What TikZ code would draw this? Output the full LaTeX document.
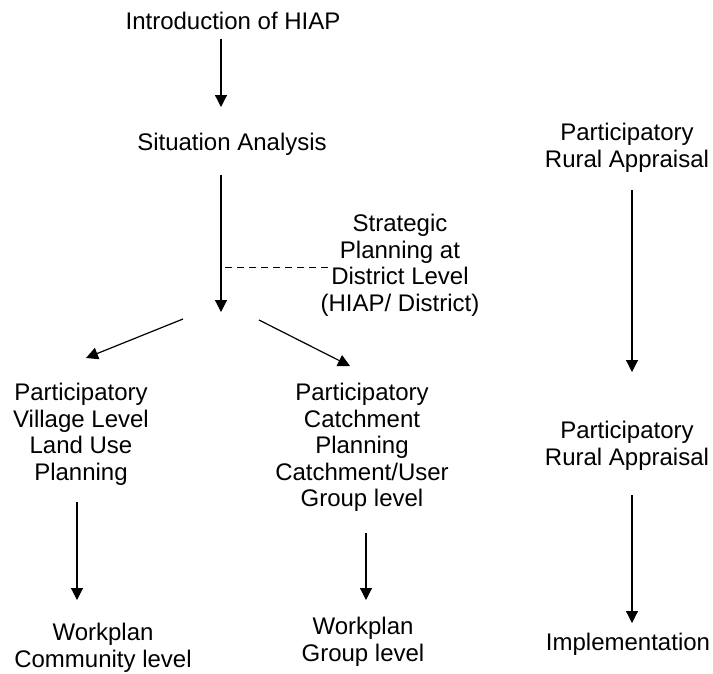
\documentclass[tikz,border=0pt]{standalone}
\usepackage{fontspec}
\setmainfont{Liberation Sans}
\usetikzlibrary{arrows.meta}
\begin{document}
\begin{tikzpicture}[x=1pt,y=-1pt,
  lbl/.style={align=center, inner sep=0pt, anchor=north, font=\fontsize{24}{26.5}\selectfont},
  arr/.style={line width=1.2pt, -{Triangle[length=12pt,width=12pt]}},
  dashline/.style={line width=1pt, dash pattern=on 7pt off 5pt}]
\useasboundingbox (0,0) rectangle (713,673);
\fill[white] (0,0) rectangle (713,673);
% texts
\node[lbl] (intro) at (233,12) {Introduction of HIAP};
\node[lbl] (sit) at (232,133) {Situation Analysis};
\node[lbl] (strat) at (400,214) {Strategic\\Planning at\\District Level\\(HIAP/ District)};
\node[lbl] (pvl) at (81,383) {Participatory\\Village Level\\Land Use\\Planning};
\node[lbl] (pcp) at (362,383) {Participatory\\Catchment\\Planning\\Catchment/User\\Group level};
\node[lbl] (wc) at (103,623) {Workplan\\Community level};
\node[lbl] (wg) at (363,617) {Workplan\\Group level};
\node[lbl] (pra1) at (627,123) {Participatory\\Rural Appraisal};
\node[lbl] (pra2) at (627,421) {Participatory\\Rural Appraisal};
\node[lbl] (impl) at (628,633) {Implementation};
% connector end points
\coordinate (a1s) at (221,39);   \coordinate (a1e) at (221,107);
\coordinate (a2s) at (221,175);  \coordinate (a2e) at (221,312);
\coordinate (ds) at (225,267);   \coordinate (de) at (328,267);
\coordinate (lds) at (183,319);  \coordinate (lde) at (86,358);
\coordinate (rds) at (259,320);  \coordinate (rde) at (350,366);
\coordinate (lvs) at (77,502);   \coordinate (lve) at (77,600);
\coordinate (mvs) at (366,533);  \coordinate (mve) at (366,600);
\coordinate (r1s) at (632,190);  \coordinate (r1e) at (632,372);
\coordinate (r2s) at (632,495);  \coordinate (r2e) at (632,623);
% connectors
\draw[arr] (a1s) -- (a1e);
\draw[arr] (a2s) -- (a2e);
\draw[dashline] (ds) -- (de);
\draw[arr] (lds) -- (lde);
\draw[arr] (rds) -- (rde);
\draw[arr] (lvs) -- (lve);
\draw[arr] (mvs) -- (mve);
\draw[arr] (r1s) -- (r1e);
\draw[arr] (r2s) -- (r2e);
\end{tikzpicture}
\end{document}
